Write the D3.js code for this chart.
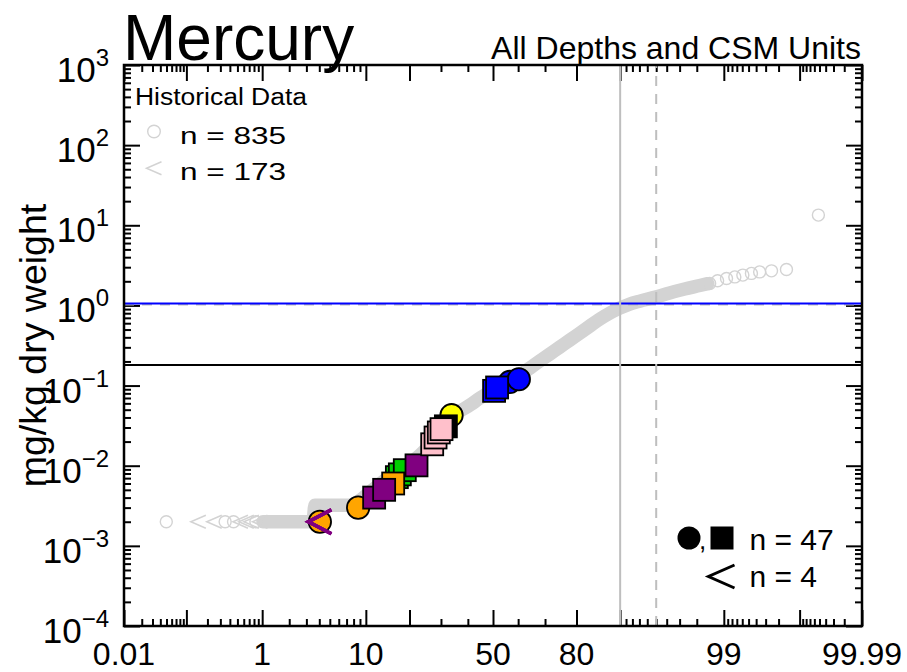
<!doctype html>
<head>
    <meta charset="utf-8">
    <title>Mercury</title>
    <script src="https://cdn.jsdelivr.net/npm/d3@7"></script>
    <style>
        body { margin: 0; background: #fff; }
        text { font-family: "Liberation Sans", Arial, sans-serif; fill: #000; }
        .tick line { stroke: #000; stroke-width: 2; }
    </style>
</head>
<body>
<script>
"use strict";

// historical data: dense core of the distribution (percentile, mg/kg)
const bandPct = [1.02, 3.48, 3.63, 7.46, 8.98, 10.73, 12.71, 14.92, 17.39, 20.1, 23.04, 26.21, 29.6,
    33.18, 36.92, 40.75, 44.71, 48.72, 52.73, 56.71, 60.64, 64.47, 68.12, 71.64, 74.95, 78.05, 80.89,
    83.52, 85.9, 88.04, 89.92, 91.59, 93.04, 94.95, 96.25, 97.33, 98.14, 98.48];
const bandVal = [0.002, 0.002, 0.0032, 0.0032, 0.0037, 0.0047, 0.0059, 0.0074, 0.0088, 0.0107, 0.0135,
    0.018, 0.0262, 0.0392, 0.0479, 0.0569, 0.0696, 0.0828, 0.0955, 0.1135, 0.135, 0.165, 0.202, 0.247,
    0.302, 0.369, 0.451, 0.552, 0.675, 0.802, 0.925, 1.04, 1.13, 1.27, 1.43, 1.60, 1.77, 1.87];

// historical data: separate points in the two tails
const tailPct = [0.0496, 0.149, 0.248, 0.347, 0.446, 0.546, 0.645, 0.744, 0.843, 0.942,
    98.55, 98.82, 99.07, 99.26, 99.41, 99.54, 99.64, 99.75, 99.845, 99.948];
const tailVal = [0.002, 0.002, 0.002, 0.002, 0.002, 0.002, 0.002, 0.002, 0.002, 0.002,
    1.88, 2.03, 2.17, 2.27, 2.39, 2.51, 2.62, 2.70, 2.81, 13.4];
const tailType = ["o", "<", "<", "o", "o", "<", "<", "<", "o", "<",
    "o", "o", "o", "o", "o", "o", "o", "o", "o", "o"];

// current samples (drawing order = stacking order)
const curPct = [4.05, 8.71, 16.63, 17.39, 18.7, 15.72, 11.55, 13.63, 22.04, 33.8, 31.74,
    27.0, 28.13, 29.25, 30.19, 56.71, 60.26, 50.44, 51.64];
const curVal = [0.002, 0.0030, 0.0072, 0.0078, 0.0088, 0.0060, 0.0040, 0.0050, 0.0101, 0.0427, 0.031,
    0.0185, 0.0225, 0.026, 0.0286, 0.111, 0.120, 0.0859, 0.0947];
const curShape = ["circle", "circle", "square", "square", "square", "square", "square", "square", "square",
    "circle", "square", "square", "square", "square", "square", "circle", "circle", "square", "square"];
const curColor = ["orange", "orange", "#00cd00", "#00cd00", "#00cd00", "orange", "purple", "purple", "purple",
    "yellow", "black", "pink", "pink", "pink", "pink", "blue", "blue", "blue", "blue"];

// current non-detects
const ndPct = [4.05, 4.05, 4.05, 4.05];
const ndVal = [0.002, 0.002, 0.002, 0.002];

// legend counts
const histCounts = ["n = 835", "n = 173"];
const curCounts = ["n = 47", "n = 4"];

// reference levels
const hLines = [
    { v: 1.03, color: "#bebebe", dash: "10,8" },
    { v: 1.06, color: "blue", dash: null },
    { v: 0.18, color: "black", dash: null },
];
const vLines = [
    { p: 90, color: "#bebebe", dash: null },
    { p: 95, color: "#bebebe", dash: "10,8" },
];

// axes
const xMajor = [0.01, 0.1, 1, 10, 20, 50, 80, 90, 99, 99.9, 99.99];
const xMinor = [0.02, 0.03, 0.04, 0.05, 0.06, 0.07, 0.08, 0.09,
    0.2, 0.3, 0.4, 0.5, 0.6, 0.7, 0.8, 0.9,
    2, 3, 4, 5, 6, 7, 8, 9, 30, 40, 60, 70,
    91, 92, 93, 94, 95, 96, 97, 98,
    99.1, 99.2, 99.3, 99.4, 99.5, 99.6, 99.7, 99.8,
    99.91, 99.92, 99.93, 99.94, 99.95, 99.96, 99.97, 99.98];
const xLabels = ["0.01", "1", "10", "50", "80", "99", "99.99"];
const yExp = [3, 2, 1, 0, -1, -2, -3, -4];

const width = 907;
const height = 672;
const margin = { top: 65, right: 45, bottom: 46, left: 124 };

// inverse normal CDF (Acklam)
function probit(p) {
    const a = [-3.969683028665376e+01, 2.209460984245205e+02, -2.759285104469687e+02, 1.383577518672690e+02, -3.066479806614716e+01, 2.506628277459239e+00];
    const b = [-5.447609879822406e+01, 1.615858368580409e+02, -1.556989798598866e+02, 6.680131188771972e+01, -1.328068155288572e+01];
    const c = [-7.784894002430293e-03, -3.223964580411365e-01, -2.400758277161838e+00, -2.549732539343734e+00, 4.374664141464968e+00, 2.938163982698783e+00];
    const d = [7.784695709041462e-03, 3.224671290700398e-01, 2.445134137142996e+00, 3.754408661907416e+00];
    const pl = 0.02425;
    let q, r;
    if (p < pl) {
        q = Math.sqrt(-2 * Math.log(p));
        return (((((c[0] * q + c[1]) * q + c[2]) * q + c[3]) * q + c[4]) * q + c[5]) / ((((d[0] * q + d[1]) * q + d[2]) * q + d[3]) * q + 1);
    }
    if (p > 1 - pl) {
        q = Math.sqrt(-2 * Math.log(1 - p));
        return -(((((c[0] * q + c[1]) * q + c[2]) * q + c[3]) * q + c[4]) * q + c[5]) / ((((d[0] * q + d[1]) * q + d[2]) * q + d[3]) * q + 1);
    }
    q = p - 0.5;
    r = q * q;
    return (((((a[0] * r + a[1]) * r + a[2]) * r + a[3]) * r + a[4]) * r + a[5]) * q / (((((b[0] * r + b[1]) * r + b[2]) * r + b[3]) * r + b[4]) * r + 1);
}

const z = d3.scaleLinear()
    .domain([probit(0.0001), probit(0.9999)])
    .range([margin.left, width - margin.right]);
const x = pct => z(probit(pct / 100));

const y = d3.scaleLog()
    .domain([1e-4, 1e3])
    .range([height - margin.bottom, margin.top]);

const x0 = margin.left, x1 = width - margin.right;
const y0 = height - margin.bottom, y1 = margin.top;

const svg = d3.select("body").append("svg")
    .attr("width", width)
    .attr("height", height)
    .attr("viewBox", [0, 0, width, height]);

// ticks on all four sides, pointing inwards
const zMajor = xMajor.map(p => probit(p / 100));
const zMinor = xMinor.map(p => probit(p / 100));
const decades = yExp.map(e => Math.pow(10, e));
const yMinor = [];
decades.slice(1).forEach(dv => { for (let k = 2; k <= 9; k++) yMinor.push(dv * k); });

function ticks(axis, tr) {
    svg.append("g")
        .attr("transform", tr)
        .call(axis.tickFormat(""))
        .call(g => g.select(".domain").remove());
}
ticks(d3.axisBottom(z).tickValues(zMajor).tickSize(-16), `translate(0,${y0})`);
ticks(d3.axisBottom(z).tickValues(zMinor).tickSize(-7), `translate(0,${y0})`);
ticks(d3.axisTop(z).tickValues(zMajor).tickSize(-16), `translate(0,${y1})`);
ticks(d3.axisTop(z).tickValues(zMinor).tickSize(-7), `translate(0,${y1})`);
ticks(d3.axisLeft(y).tickValues(decades).tickSize(-16), `translate(${x0},0)`);
ticks(d3.axisLeft(y).tickValues(yMinor).tickSize(-7), `translate(${x0},0)`);
ticks(d3.axisRight(y).tickValues(decades).tickSize(-16), `translate(${x1},0)`);
ticks(d3.axisRight(y).tickValues(yMinor).tickSize(-7), `translate(${x1},0)`);

// x labels
svg.append("g")
    .selectAll("text")
    .data(xLabels)
    .join("text")
    .attr("x", d => x(+d))
    .attr("y", 665)
    .attr("text-anchor", "middle")
    .attr("font-size", 32)
    .text(d => d);

// y labels 10^e
const yl = svg.append("g")
    .selectAll("text")
    .data(yExp)
    .join("text")
    .attr("x", 109)
    .attr("y", e => y(Math.pow(10, e)) + 17)
    .attr("text-anchor", "end");
yl.append("tspan").attr("font-size", 35).text("10");
yl.append("tspan").attr("font-size", 24).attr("dy", -16)
    .text(e => (e < 0 ? "\u2212" + (-e) : String(e)));

// axis title
svg.append("text")
    .attr("transform", `translate(46,${(y0 + y1) / 2}) rotate(-90)`)
    .attr("text-anchor", "middle")
    .attr("font-size", 37.5)
    .text("mg/kg dry weight");

// titles
svg.append("text")
    .attr("x", 123).attr("y", 60)
    .attr("font-size", 64)
    .text("Mercury");
svg.append("text")
    .attr("x", 861).attr("y", 59)
    .attr("text-anchor", "end")
    .attr("font-size", 32)
    .text("All Depths and CSM Units");

// historical data
const hist = bandPct.map((p, i) => ({ pct: p, val: bandVal[i] }));
const histGray = "#d3d3d3";

svg.append("path")
    .datum(hist)
    .attr("fill", "none")
    .attr("stroke", histGray)
    .attr("stroke-width", 13.5)
    .attr("stroke-linejoin", "round")
    .attr("stroke-linecap", "round")
    .attr("d", d3.line().curve(d3.curveMonotoneX).x(d => x(d.pct)).y(d => y(d.val)));

const tail = tailPct.map((p, i) => ({ pct: p, val: tailVal[i], type: tailType[i] }));
const lt = (cx, cy, w, h) => `M${cx + w / 2},${cy - h / 2}L${cx - w / 2},${cy}L${cx + w / 2},${cy + h / 2}`;

svg.append("g")
    .selectAll("circle")
    .data(tail.filter(d => d.type === "o"))
    .join("circle")
    .attr("cx", d => x(d.pct))
    .attr("cy", d => y(d.val))
    .attr("r", 6)
    .attr("fill", "none")
    .attr("stroke", histGray)
    .attr("stroke-width", 1.4);

svg.append("g")
    .selectAll("path")
    .data(tail.filter(d => d.type === "<"))
    .join("path")
    .attr("d", d => lt(x(d.pct), y(d.val), 15, 13))
    .attr("fill", "none")
    .attr("stroke", histGray)
    .attr("stroke-width", 1.5);

// reference lines
svg.append("g")
    .selectAll("line")
    .data(hLines)
    .join("line")
    .attr("x1", x0).attr("x2", x1)
    .attr("y1", d => y(d.v)).attr("y2", d => y(d.v))
    .attr("stroke", d => d.color)
    .attr("stroke-width", 2)
    .attr("stroke-dasharray", d => d.dash);

svg.append("g")
    .selectAll("line")
    .data(vLines)
    .join("line")
    .attr("x1", d => x(d.p)).attr("x2", d => x(d.p))
    .attr("y1", y0).attr("y2", y1)
    .attr("stroke", d => d.color)
    .attr("stroke-width", 2)
    .attr("stroke-dasharray", d => d.dash);

// current samples
const cur = curPct.map((p, i) => ({ pct: p, val: curVal[i], shape: curShape[i], color: curColor[i] }));
const cg = svg.append("g");
cur.forEach(d => {
    const cx = x(d.pct), cy = y(d.val);
    if (d.shape === "circle") {
        cg.append("circle")
            .attr("cx", cx).attr("cy", cy).attr("r", 11.2)
            .attr("fill", d.color).attr("stroke", "#000").attr("stroke-width", 1.8);
    } else {
        cg.append("rect")
            .attr("x", cx - 11).attr("y", cy - 11)
            .attr("width", 22).attr("height", 22)
            .attr("fill", d.color).attr("stroke", "#000").attr("stroke-width", 1.8);
    }
});

svg.append("g")
    .selectAll("path")
    .data(ndPct.map((p, i) => ({ pct: p, val: ndVal[i] })))
    .join("path")
    .attr("d", d => lt(x(d.pct), y(d.val), 23, 24))
    .attr("fill", "none")
    .attr("stroke", "purple")
    .attr("stroke-width", 3.5);

// frame
svg.append("rect")
    .attr("x", x0).attr("y", y1)
    .attr("width", x1 - x0).attr("height", y0 - y1)
    .attr("fill", "none")
    .attr("stroke", "#000")
    .attr("stroke-width", 2.5);

// legend: historical data
const lg = svg.append("g");
lg.append("text").attr("x", 135).attr("y", 105).attr("font-size", 23)
    .attr("textLength", 172).attr("lengthAdjust", "spacingAndGlyphs")
    .text("Historical Data");
lg.append("circle").attr("cx", 154).attr("cy", 131.5).attr("r", 6.3)
    .attr("fill", "none").attr("stroke", histGray).attr("stroke-width", 1.4);
lg.append("text").attr("x", 180).attr("y", 144).attr("font-size", 24)
    .attr("textLength", 106).attr("lengthAdjust", "spacingAndGlyphs")
    .text(histCounts[0]);
lg.append("path").attr("d", lt(154, 168.3, 15, 13))
    .attr("fill", "none").attr("stroke", histGray).attr("stroke-width", 1.5);
lg.append("text").attr("x", 180).attr("y", 180).attr("font-size", 24)
    .attr("textLength", 106).attr("lengthAdjust", "spacingAndGlyphs")
    .text(histCounts[1]);

// legend: current samples
const lc = svg.append("g");
lc.append("circle").attr("cx", 689).attr("cy", 538).attr("r", 11.5).attr("fill", "#000");
lc.append("text").attr("x", 699).attr("y", 549).attr("font-size", 26).text(",");
lc.append("rect").attr("x", 710.5).attr("y", 526.5).attr("width", 23).attr("height", 23).attr("fill", "#000");
lc.append("text").attr("x", 749.5).attr("y", 550).attr("font-size", 30).text(curCounts[0]);
lc.append("path").attr("d", lt(721.5, 576.5, 26, 23))
    .attr("fill", "none").attr("stroke", "#000").attr("stroke-width", 3);
lc.append("text").attr("x", 749.5).attr("y", 587).attr("font-size", 30).text(curCounts[1]);
</script>
</body>
</html>
